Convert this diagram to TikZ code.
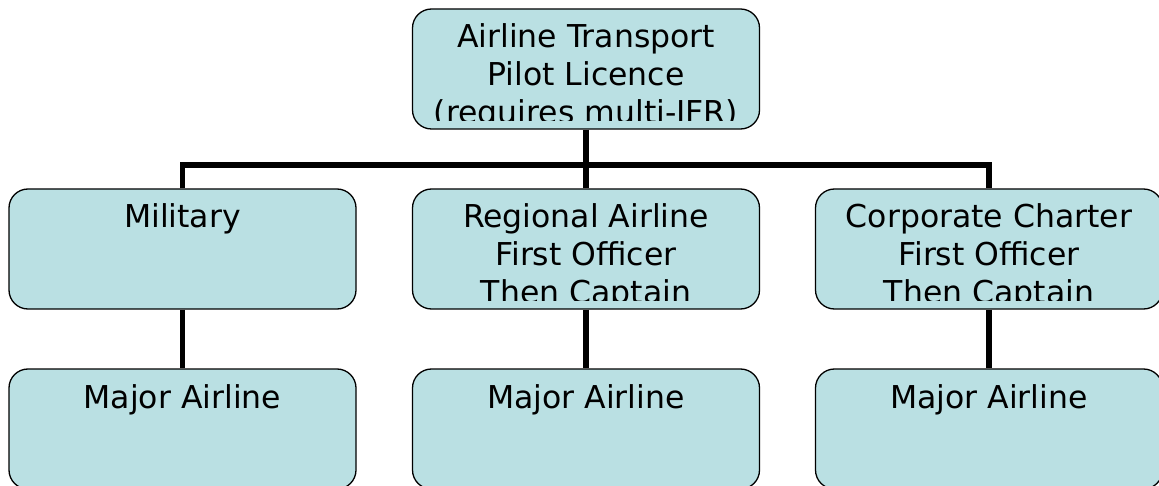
\documentclass[tikz,border=0pt]{standalone}
\usepackage{fontspec}
\setmainfont{DejaVu Sans}
\definecolor{boxfill}{RGB}{186,224,227}
\begin{document}
\begin{tikzpicture}[x=1pt,y=1pt,
  box/.style n args={3}{draw=black, line width=1.3pt, fill=boxfill, rounded corners=19pt,
    minimum width=347pt, minimum height=120pt, inner sep=0pt,
    path picture={
      \clip ([yshift=8pt]path picture bounding box.south west) rectangle (path picture bounding box.north east);
      \node[anchor=base, align=center, inner sep=0pt, font=\fontsize{31.5}{38}\selectfont]
        (#1) at ([yshift=#3]path picture bounding box.north) {#2};
    }},
  link/.style={line width=5.5pt, draw=black}]
\useasboundingbox (0,0) rectangle (1159,-486);
% node positions
\coordinate (bus) at (586,-165);
\node[box={toptxt}{Airline Transport\\Pilot Licence\\(requires multi-IFR)}{-115pt}] (top) at (586,-69) {};
\node[box={miltxt}{Military}{-39pt}] (mil) at (182.5,-249) {};
\node[box={regtxt}{Regional Airline\\First Officer\\Then Captain}{-115pt}] (reg) at (586,-249) {};
\node[box={corptxt}{Corporate Charter\\First Officer\\Then Captain}{-115pt}] (corp) at (989,-249) {};
\node[box={majatxt}{Major Airline}{-39pt}] (maja) at (182.5,-429) {};
\node[box={majbtxt}{Major Airline}{-39pt}] (majb) at (586,-429) {};
\node[box={majctxt}{Major Airline}{-39pt}] (majc) at (989,-429) {};
% connectors
\draw[link] (top.south) -- (top.south |- bus);
\draw[link] (mil.north) -- (mil.north |- bus) -- (corp.north |- bus) -- (corp.north);
\draw[link] (reg.north) -- (reg.north |- bus);
\draw[link] (mil.south) -- (maja.north);
\draw[link] (reg.south) -- (majb.north);
\draw[link] (corp.south) -- (majc.north);
\end{tikzpicture}
\end{document}
